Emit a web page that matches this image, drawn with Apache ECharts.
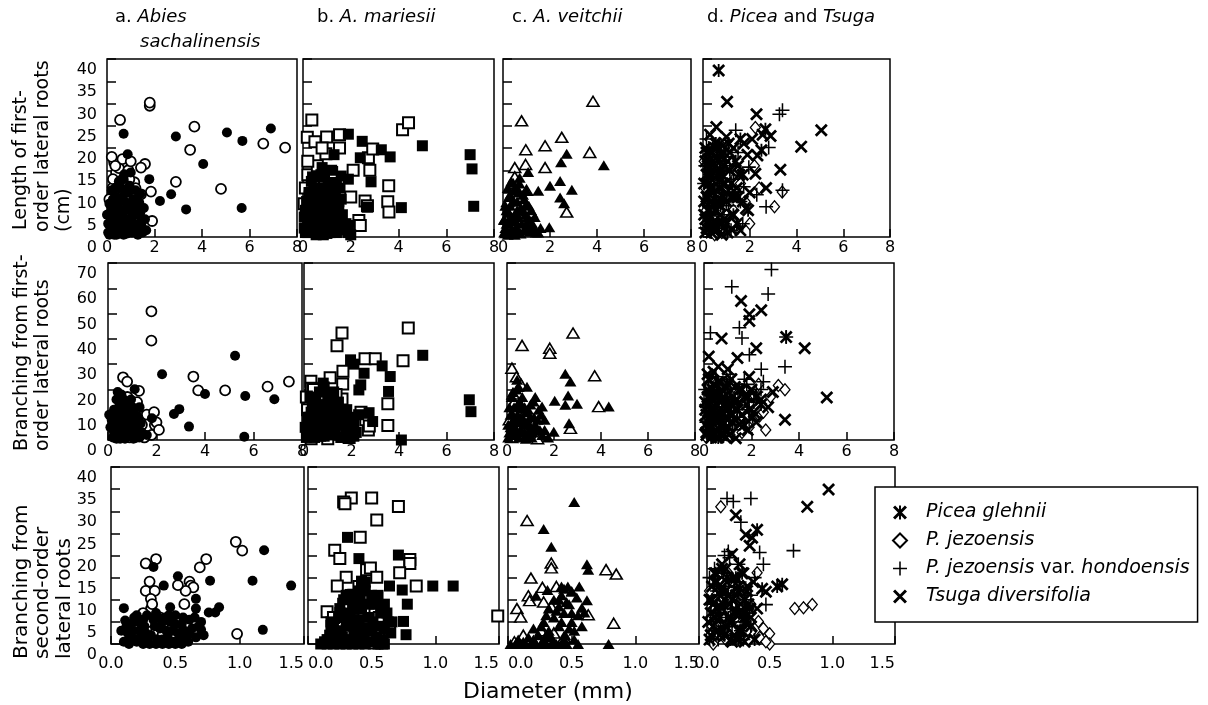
<!DOCTYPE html>
<html>
<head>
<meta charset="utf-8">
<script src="https://cdn.jsdelivr.net/npm/echarts@6.0.0/dist/echarts.min.js"></script>
<style>
  html, body { margin: 0; padding: 0; background: #fff; }
  #main { width: 1208px; height: 705px; }
</style>
</head>
<body>
<div id="main"></div>
<script>
// ---- data: [diameter, value] ----
// column a: Abies sachalinensis (open / filled circles)
const aLenOpen = [[1.8,29.5],[1.8,30.2],[0.55,26.3],[3.68,24.8],[3.5,19.6],[6.58,21],[7.5,20.1],[2.9,12.4],[4.8,10.8],[0.3,16.8],[0.38,14.5],[0.8,16.8],[1.6,16.4],[1.43,15.6],[1.15,12.3],[1.43,9.6],[1.85,10.2],[1.9,3.6],[0.24,11.1],[0.94,13],[0.24,7.4],[0.1,8.5],[0.25,13],[0.5,15.5],[0.65,17.5],[0.45,11],[0.9,15],[1.2,11],[1.0,17],[0.2,18],[0.35,16],[0.7,12],[0.6,9]];
const aLenFilled = [[0.7,23.2],[0.87,18.6],[2.9,22.6],[5.05,23.5],[5.7,21.6],[6.9,24.4],[4.05,16.4],[1.78,13],[2.23,8.1],[2.7,9.6],[3.33,6.2],[5.67,6.5],[0.73,14.1],[1.0,14.5],[1.36,7.7],[1.36,5.1],[0.05,1],[0.1,3],[0.15,5.5],[0.2,1.5],[0.25,4],[0.3,7],[0.35,2],[0.4,9],[0.45,5],[0.5,1],[0.55,3.5],[0.6,11],[0.65,6],[0.7,2.5],[0.75,8],[0.8,4],[0.85,0.8],[0.9,10],[0.95,6.5],[1.0,2],[1.05,4.5],[1.1,8.5],[1.2,1.2],[1.25,5],[1.35,3],[1.4,9.6],[1.5,1],[0.2,10.5],[0.1,7.5],[0.5,12.5],[0.3,0.5],[0.7,13],[1.6,4],[0.0,5],[0.15,2.5],[0.6,4.5],[0.05,3],[0.1,0.5],[0.2,6.5],[0.25,8.5],[0.3,3],[0.4,0.5],[0.4,3],[0.45,7],[0.55,5.5],[0.6,1.5],[0.65,9],[0.75,3.5],[0.8,6],[0.85,10.5],[0.9,2],[0.95,4],[1.0,7.5],[1.05,1],[1.1,3],[1.15,6],[1.2,10.5],[1.25,2.5],[1.3,7],[1.4,5.5],[1.45,2.5],[1.55,6.5],[1.65,1.5],[0.35,11],[0.55,8],[0.15,4.5],[0.5,4],[0.7,0.5],[1.3,0.5],[0.95,11.5]];
const aBr1Open = [[1.79,50.9],[1.79,39.3],[0.62,24.8],[0.79,23.1],[3.52,25.1],[3.72,19.6],[4.83,19.6],[6.58,21.1],[7.46,23.1],[1.28,19.4],[1.03,14.5],[1.38,9.2],[1.93,5.9],[0.2,10],[0.4,3],[0.6,8],[0.8,17],[1.0,12],[1.2,15],[1.4,6],[1.6,10],[1.8,2],[2.0,7],[2.1,4],[1.5,1],[1.9,11],[1.25,3],[0.9,1]];
const aBr1Filled = [[2.23,26],[5.24,33.3],[4.0,18.2],[5.66,17.4],[6.86,16.1],[2.72,10.3],[2.94,12.2],[3.34,5.3],[5.62,1.3],[1.1,20.1],[0.48,17.2],[1.81,8.6],[0.2,1],[0.3,5],[0.4,10],[0.5,2],[0.6,14],[0.7,7],[0.8,1.5],[0.9,11],[1.0,4],[1.1,8],[1.2,1],[1.3,13],[0.35,16],[0.55,18],[0.75,12],[0.95,16],[0.45,6],[0.65,3],[0.85,9],[1.05,0.5],[0.15,8],[0.25,12],[1.4,3],[1.6,2],[1.15,6],[0.25,3],[0.3,8.5],[0.35,0.5],[0.4,4],[0.45,13],[0.5,7],[0.55,10],[0.6,1],[0.65,5],[0.7,11],[0.75,3],[0.8,15],[0.85,6],[0.9,2],[0.95,8],[1.0,13],[1.05,3],[1.1,10],[1.2,5],[1.25,9],[1.3,1],[1.35,6.5],[0.3,1],[0.5,0.5],[0.7,0.5],[0.55,4],[0.1,5],[0.05,10],[0.65,16],[0.4,19]];
const aBr2Open = [[0.97,23.1],[1.02,21.1],[0.74,19.2],[0.69,17.3],[0.35,19.2],[0.27,18.2],[0.3,14.1],[0.27,12],[0.34,12],[0.31,10.2],[0.61,14.1],[0.62,13.2],[0.64,12.8],[0.58,12],[0.57,9],[0.52,13.3],[0.98,2.3],[0.31,7.9],[0.43,3.4],[0.3,5],[0.35,3],[0.4,2],[0.45,4],[0.5,3],[0.47,1.5],[0.38,6],[0.25,7],[0.32,9]];
const aBr2Filled = [[0.33,17.4],[0.41,13.2],[0.52,15.3],[0.77,14.3],[1.1,14.3],[1.19,21.2],[1.4,13.2],[1.18,3.2],[0.1,8.1],[0.11,5.3],[0.66,10.2],[0.66,8.0],[0.84,8.3],[0.76,7.1],[0.81,7.1],[0.7,3.2],[0.61,2.3],[0.46,8.3],[0.1,0.5],[0.13,2.5],[0.16,4.5],[0.19,1],[0.22,3],[0.25,5.5],[0.28,0.5],[0.31,2],[0.34,4],[0.37,6],[0.4,1],[0.43,3],[0.46,5],[0.49,0.5],[0.52,2.5],[0.55,4.5],[0.58,1.5],[0.61,5.5],[0.2,6.5],[0.35,7],[0.5,6.5],[0.15,1.5],[0.3,0],[0.45,0],[0.27,2.5],[0.4,5],[0.65,6],[0.68,4],[0.72,2],[0.55,0],[0.12,4],[0.14,0],[0.17,3],[0.2,0.5],[0.21,5],[0.24,2],[0.26,4],[0.29,1.5],[0.33,5.5],[0.36,1],[0.38,3.5],[0.42,6],[0.44,1.5],[0.48,3],[0.5,4.5],[0.53,1],[0.57,3],[0.6,0.5],[0.63,3.5],[0.35,0],[0.25,0],[0.4,0],[0.5,0],[0.18,6],[0.28,6.5],[0.45,6.5],[0.56,6],[0.08,3],[0.66,1.5],[0.7,5]];

// column b: A. mariesii (open / filled squares)
const bLenOpen = [[0.37,26.3],[0.18,22.4],[0.5,21.4],[0.99,22.5],[1.53,23],[1.53,20],[2.74,17.8],[2.8,15],[3.59,11.5],[3.55,7.9],[3.6,5.6],[4.17,24.1],[4.42,25.7],[2.92,19.8],[2.6,8.1],[2.7,7.0],[2.34,3.7],[2.4,2.6],[0.96,18.7],[0.1,11],[0.2,14],[0.3,9],[0.5,13],[0.15,6],[0.6,16],[0.9,12],[1.2,14.5],[0.4,2],[0.05,7.5],[1.0,5],[0.7,1.5],[1.3,10],[0.2,17],[0.8,20],[2.1,15],[2.0,9]];
const bLenFilled = [[1.9,23.1],[2.48,21.5],[3.28,19.6],[3.65,18],[5.0,20.5],[7.0,18.5],[7.08,15.3],[7.15,6.9],[4.12,6.6],[2.85,12.4],[1.9,13],[1.6,13.7],[1.3,18.5],[2.4,17.8],[0.8,15.6],[2.7,6.7],[1.6,8.5],[1.9,2.6],[0.1,1],[0.2,3.5],[0.3,6],[0.4,1.5],[0.5,9],[0.6,4],[0.7,11],[0.8,2],[0.9,7],[1.0,0.8],[1.1,5],[1.2,9.5],[1.3,2.5],[1.4,12],[1.5,6],[0.15,8],[0.35,12.5],[0.55,0.5],[0.75,14],[0.95,3],[1.15,1],[1.25,7.5],[0.05,4.5],[0.45,6.5],[0.85,9.5],[1.05,12],[1.6,3],[1.75,1.5],[0.25,10],[0.65,8],[0.05,2],[0.1,6],[0.2,1],[0.25,5],[0.3,8.5],[0.35,3],[0.45,10.5],[0.5,4.5],[0.55,7],[0.6,1.5],[0.65,11],[0.7,5],[0.75,3],[0.8,8],[0.85,0.5],[0.9,10.5],[0.95,5.5],[1.0,3],[1.05,8.5],[1.1,1],[1.15,11],[1.2,4],[1.3,6],[1.35,9],[1.4,1],[1.45,3.5],[1.5,8],[1.55,11],[1.65,5],[1.8,3],[1.9,1],[2.0,0.5],[0.4,13.5],[0.9,13.5],[1.2,15]];
const bBr1Open = [[1.6,42.3],[1.39,37.3],[4.39,44.3],[4.17,31.3],[2.57,32.1],[3.0,32.1],[1.64,27.2],[1.63,22.1],[1.6,16.2],[3.53,14.3],[3.53,5.7],[0.29,23.2],[0.31,20.5],[1.1,24.6],[2.71,4],[0.15,12],[0.35,8],[0.55,3],[0.75,16],[0.95,10],[1.15,13],[1.35,18],[0.4,20],[0.3,0.5],[1.0,0.5],[1.5,4],[1.9,1],[2.6,8],[2.75,5.5],[2.4,11],[0.1,17]];
const bBr1Filled = [[1.96,31.7],[2.1,30],[2.53,26.4],[3.29,29.3],[3.63,25.1],[2.39,21.8],[2.31,19.8],[3.56,19.2],[5.0,33.5],[6.96,15.9],[7.03,11.2],[4.1,0],[0.81,22.5],[2.74,10.8],[2.89,7.3],[1.89,1.3],[0.1,1],[0.2,6],[0.3,11],[0.4,3],[0.5,15],[0.6,8],[0.7,1.5],[0.8,12],[0.9,5],[1.0,17],[1.1,9],[1.2,2],[1.3,14],[1.4,6],[1.5,10],[1.6,1],[1.7,7],[1.8,12],[1.9,4],[2.0,9],[2.1,1.5],[2.3,10],[0.25,17],[0.65,19],[0.85,21],[1.25,19],[0.45,7.5],[1.05,3],[0.05,5],[0.15,3],[0.25,9],[0.35,5],[0.45,1],[0.55,12],[0.6,4],[0.7,9],[0.75,5],[0.85,1.5],[0.9,14],[0.95,8],[1.05,11],[1.1,5],[1.2,7],[1.3,3],[1.35,10],[1.45,15],[1.5,6],[1.55,1],[1.65,11],[1.75,4],[1.85,8],[2.0,2],[2.1,6],[2.2,3],[0.35,14],[0.8,6],[1.15,16],[0.15,9]];
const bBr2Open = [[0.34,33.0],[0.28,32.1],[0.29,31.7],[0.5,33],[0.71,31.1],[0.54,28],[0.41,24.1],[0.21,21.2],[0.25,19.3],[0.8,19.1],[0.8,18.2],[0.72,16.1],[0.46,16.8],[0.49,17.2],[0.3,15.1],[0.23,13.1],[0.85,13.1],[0.54,15.1],[0.15,7.3],[0.64,3.1],[1.49,6.3],[0.2,6],[0.28,9],[0.36,11],[0.44,7],[0.52,0.2],[0.58,0.2],[0.48,4],[0.4,13],[0.32,3],[0.56,6]];
const bBr2Filled = [[0.31,24.1],[0.4,19.3],[0.71,20.1],[0.64,13.1],[0.98,13.1],[1.14,13.1],[0.74,12.2],[0.78,9.0],[0.66,5.0],[0.75,5.1],[0.77,2.1],[0.25,7.1],[0.18,4.2],[0.42,14.2],[0.33,11.2],[0.13,0.5],[0.17,2],[0.2,4],[0.23,0.5],[0.26,3],[0.29,6],[0.32,1],[0.35,8],[0.38,4],[0.41,10],[0.44,2],[0.47,6],[0.5,0.5],[0.53,9],[0.56,4],[0.59,1],[0.62,7],[0.3,11],[0.45,12],[0.4,0],[0.25,8],[0.5,3],[0.55,11],[0.65,2.5],[0.2,0],[0.35,5.5],[0.15,1],[0.18,5],[0.21,2],[0.24,6],[0.27,1.5],[0.3,4],[0.33,7],[0.36,2],[0.39,5.5],[0.42,8],[0.45,3.5],[0.48,9],[0.51,5],[0.54,1.5],[0.57,7],[0.6,3.5],[0.63,5],[0.36,10],[0.4,12],[0.5,11],[0.28,10],[0.1,0],[0.15,0],[0.25,0],[0.3,0],[0.35,0],[0.45,0],[0.55,0],[0.6,0],[0.45,14],[0.6,9]];

// column c: A. veitchii (open / filled triangles)
const cLenOpen = [[3.83,30.5],[0.79,26.1],[2.5,22.4],[1.79,20.5],[0.97,19.6],[3.69,19],[0.5,15.6],[0.96,16.3],[1.79,15.6],[2.71,5.6],[0.1,4],[0.2,8],[0.4,12],[0.3,2],[0.6,9],[0.8,4],[1.0,10.5],[1.2,5.5],[0.5,13.5],[0.15,1]];
const cLenFilled = [[2.71,18.7],[2.47,16.8],[4.29,16.1],[1.07,14.6],[2.0,11.5],[2.43,12.6],[2.93,10.6],[1.5,10.4],[1.0,10.4],[2.43,8.9],[2.6,7.6],[1.97,2.2],[0.43,12.2],[0.71,13.3],[0.05,1],[0.15,3],[0.25,5.5],[0.35,1.5],[0.45,8],[0.55,3.5],[0.65,10],[0.75,0.8],[0.85,6],[0.95,2],[1.05,4.5],[1.15,1.2],[1.25,3],[0.1,7],[0.3,9.5],[0.5,0.5],[0.7,12],[0.9,8.5],[1.1,7],[0.2,11],[1.4,1],[1.6,2],[0.4,4],[0.6,6],[0.05,4],[0.1,2],[0.15,6],[0.2,0.5],[0.25,3],[0.3,7],[0.35,4.5],[0.4,1.5],[0.45,10.5],[0.5,5],[0.55,2],[0.6,8],[0.65,4.5],[0.7,1],[0.75,6.5],[0.8,3],[0.85,9.5],[0.9,1.5],[0.95,5],[1.0,7.5],[1.05,2.5],[1.1,4],[1.2,6],[1.3,2],[1.35,4.5],[1.5,1],[0.35,12.5],[0.6,11],[0.25,9]];
const cBr1Open = [[2.81,42.3],[0.64,37.4],[1.82,36.3],[1.82,34.3],[3.73,25.4],[3.9,13.2],[0.21,28.4],[0.26,18.2],[2.7,4.6],[0.1,8],[0.3,15],[0.5,4],[0.7,10],[0.9,2],[1.1,6],[0.2,1],[0.4,25],[1.3,0.5],[0.6,22]];
const cBr1Filled = [[2.48,26.2],[2.7,23.1],[2.6,17.6],[2.48,13.9],[2.98,14.3],[4.33,13.2],[2.03,15.5],[1.99,3.3],[2.64,6.6],[0.85,21.1],[0.43,23.8],[1.49,13.2],[1.13,15.2],[0.05,1],[0.15,5],[0.25,10],[0.35,2],[0.45,14],[0.55,7],[0.65,17],[0.75,3],[0.85,11],[0.95,6],[1.05,1],[1.15,9],[1.25,4],[1.35,12],[1.5,2],[0.2,17],[0.4,20],[0.6,12.5],[0.8,0.5],[1.0,14],[1.2,17],[1.6,8],[1.75,1],[0.1,13],[0.05,6],[0.1,3],[0.15,10],[0.2,7],[0.25,2],[0.3,13],[0.35,8],[0.4,4],[0.45,10],[0.5,1],[0.55,15],[0.6,4],[0.65,9],[0.7,6],[0.75,13],[0.8,2],[0.85,7],[0.9,12],[0.95,4],[1.0,9],[1.1,3],[1.2,6],[1.3,8],[1.4,4],[1.45,10],[1.6,4],[0.25,19],[0.5,21],[0.3,5]];
const cBr2Open = [[0.15,27.9],[0.18,14.9],[0.77,16.8],[0.85,15.8],[0.34,18.3],[0.34,17.2],[0.27,12.8],[0.16,10.9],[0.17,9.8],[0.07,8.0],[0.1,6.1],[0.83,4.7],[0.63,6.6],[0.05,0.5],[0.12,2],[0.2,0.5],[0.26,3],[0.3,1],[0.36,2.5],[0.44,1.5],[0.34,8.5],[0.38,13],[0.28,9.5]];
const cBr2Filled = [[0.52,32.1],[0.28,26.0],[0.34,22],[0.62,18.0],[0.63,16.8],[0.42,13.0],[0.56,13.0],[0.5,11.8],[0.62,9.9],[0.58,8.2],[0.6,7.1],[0.22,10.9],[0.55,0],[0.79,0],[0.31,12.2],[0.02,0],[0.06,0],[0.1,0],[0.14,0],[0.18,0],[0.22,0],[0.26,0],[0.3,0],[0.34,0],[0.38,0],[0.42,0],[0.46,0],[0.08,1],[0.16,1.5],[0.24,2],[0.32,3],[0.4,4],[0.28,5],[0.36,6],[0.44,7],[0.48,9],[0.4,10],[0.5,5],[0.2,3.5],[0.32,8],[0.45,2],[0.52,3],[0.55,6.5],[0.42,11],[0.26,4],[0.3,6.5],[0.34,1.5],[0.38,7.5],[0.42,5],[0.46,9.5],[0.5,7],[0.54,10.5],[0.36,10],[0.44,12.5],[0.3,2],[0.48,3.5],[0.4,8.5],[0.52,1],[0.12,0.5],[0.2,1],[0.28,1],[0.36,0.5],[0.44,1],[0.5,12],[0.47,13],[0.58,4]];

// column d: Picea and Tsuga
const dLenGlehnii = [[0.67,37.4],[2.67,24.2],[1.93,6.0],[0.1,4],[0.2,9],[0.3,2],[0.4,14],[0.5,6],[0.6,18],[0.7,11],[0.8,3],[0.9,16],[1.0,8],[1.1,21],[1.2,12],[1.3,5],[1.4,17],[0.15,19],[0.25,12],[1.6,22],[1.5,9],[2.5,19.5],[0.05,8],[0.15,14],[0.35,1],[0.45,10],[0.55,21],[0.75,7],[0.85,12],[1.05,1],[1.15,15],[1.25,9],[1.45,3],[1.7,14],[0.2,16],[0.9,19],[0.05,12],[0.25,6],[0.45,2],[0.65,14],[0.85,9],[1.0,3],[0.3,19],[0.55,8],[0.75,15],[0.1,17]];
const dLenJezo = [[2.24,24.6],[3.06,6.8],[3.39,10.1],[0.2,2],[0.4,7],[0.6,13],[0.8,1],[1.0,5],[1.2,10],[1.4,15],[0.3,17],[0.7,21],[1.6,12],[1.8,8],[2.0,3],[0.1,11],[0.5,0.5],[2.4,11],[2.2,16],[0.05,17],[0.25,9],[0.45,4],[0.65,8],[0.85,17],[1.05,14],[1.3,6],[1.5,2],[0.15,6],[0.35,13],[0.15,3],[0.35,9],[0.55,14],[0.75,2.5],[0.95,10]];
const dLenHondo = [[3.27,27.6],[3.4,28.5],[2.7,6.8],[2.81,20.1],[1.96,15.7],[1.74,11.3],[3.4,10.5],[0.3,5],[0.5,10],[0.7,15],[0.9,2],[1.1,7],[1.3,13],[1.5,19],[0.15,22],[1.2,1.5],[0.6,4],[1.7,3],[2.3,9.5],[1.4,24],[0.05,12],[0.2,8],[0.4,18],[0.45,3],[0.8,9],[1.0,16],[1.25,10],[1.6,8],[0.1,16],[0.35,11],[0.85,18],[0.1,2],[0.3,14],[0.5,7],[0.7,12],[0.9,5],[0.25,20]];
const dLenTsuga = [[1.03,30.4],[2.29,27.6],[5.06,24],[4.2,20.3],[0.57,24.7],[3.31,15.1],[2.7,11],[1.84,6.4],[2.33,18.3],[2.24,14.2],[2.89,22.7],[1.24,1.6],[0.1,20],[0.35,8],[0.55,16],[0.75,5],[0.95,12],[1.15,19],[1.35,9],[1.55,14],[1.75,21],[0.2,14],[0.45,1.5],[1.9,18.5],[2.1,22],[2.55,23],[1.0,22.5],[0.85,20.5],[1.6,1.5],[2.0,10],[0.05,5],[0.15,2],[0.25,17],[0.4,11],[0.5,3],[0.65,8],[0.8,14],[1.05,17],[1.25,5],[1.45,11],[1.7,8],[0.3,23],[0.6,20],[1.3,20],[1.5,16],[0.1,1],[0.2,6],[0.3,11],[0.4,16],[0.5,20],[0.6,2],[0.7,7],[0.8,0.5],[0.9,4],[1.0,10],[0.15,9],[0.35,4.5],[0.55,12],[0.75,18],[0.45,7]];
const dBr1Glehnii = [[3.46,40.7],[0.1,3],[0.3,8],[0.5,13],[0.7,18],[0.9,4],[1.1,10],[1.3,15],[1.5,20],[1.7,6],[0.2,24],[0.6,1],[1.0,22],[1.9,12],[2.2,17],[2.4,14],[0.05,12],[0.15,17],[0.25,5],[0.35,20],[0.45,8],[0.6,23],[0.8,10],[0.95,16],[1.2,7],[1.4,12],[1.6,20],[1.85,17],[2.05,9],[0.05,6],[0.25,14],[0.45,19],[0.65,9],[0.85,14],[1.05,5],[0.3,1],[0.55,17],[0.75,2]];
const dBr1Jezo = [[3.41,19.9],[3.13,21.6],[2.34,9.5],[2.6,4.0],[0.2,6],[0.4,11],[0.6,16],[0.8,2],[1.0,7],[1.2,12],[1.4,18],[1.6,3],[1.8,9],[2.0,14],[0.3,20],[2.8,17],[2.3,22],[0.1,1],[0.05,4],[0.15,14],[0.35,7],[0.5,22],[0.7,13],[0.9,18],[1.1,2],[1.3,15],[1.5,9],[1.7,20],[1.9,5],[2.1,18],[2.5,11],[0.1,10],[0.3,2],[0.5,8],[0.7,18],[0.9,13],[1.1,9],[0.2,21]];
const dBr1Hondo = [[2.84,67.4],[1.17,60.6],[2.7,57.7],[1.49,44.4],[0.27,42.4],[1.6,40.3],[3.46,40.7],[2.41,28],[3.41,29],[1.91,33.7],[0.2,15],[0.4,2],[0.6,7],[0.8,13],[1.0,19],[1.2,4],[1.4,9],[1.6,15],[1.8,22],[2.2,19],[0.5,25],[1.1,26],[2.5,23],[0.05,20],[0.1,7],[0.3,11],[0.45,16],[0.7,3],[0.9,11],[1.1,20],[1.3,6],[1.5,12],[1.7,24],[1.9,8],[2.1,15],[2.4,20],[0.15,4],[0.35,18],[0.55,10],[0.75,6],[0.95,24],[1.15,14],[0.25,9]];
const dBr1Tsuga = [[1.56,55],[2.41,51.3],[1.91,49.7],[1.91,47.1],[0.74,40.1],[4.24,36.3],[2.2,36.3],[5.17,16.8],[3.41,8],[1.34,0.7],[1.84,4],[0.2,33],[1.41,32.4],[0.1,10],[0.3,5],[0.5,18],[0.7,23],[0.9,9],[1.1,14],[1.3,21],[1.5,6],[1.7,17],[1.9,25],[2.1,11],[2.4,16],[2.7,13],[0.6,29],[1.0,28],[2.9,19],[0.4,27],[0.05,15],[0.15,20],[0.25,12],[0.35,2],[0.45,9],[0.55,14],[0.65,4],[0.8,17],[0.95,21],[1.05,2],[1.2,10],[1.35,16],[1.6,10],[1.8,14],[2.0,20],[2.2,7],[1.15,24],[0.1,2],[0.2,8],[0.3,17],[0.4,22],[0.5,4],[0.6,10],[0.7,15],[0.8,6],[0.9,1],[1.0,13],[0.15,26],[0.35,12],[0.55,1],[0.75,20],[1.2,17]];
const dBr2Glehnii = [[0.4,25.8],[0.56,13],[0.02,1],[0.05,4],[0.08,8],[0.11,12],[0.14,2],[0.17,6],[0.2,10],[0.23,15],[0.26,3],[0.29,7],[0.32,12],[0.12,17],[0.35,4],[0.44,12.5],[0.6,13.5],[0.03,7],[0.06,14],[0.09,3],[0.13,9],[0.16,15],[0.19,1],[0.22,7],[0.25,12],[0.28,16],[0.31,5],[0.34,8],[0.38,1],[0.04,10],[0.1,6],[0.15,12],[0.2,5],[0.25,1],[0.3,10],[0.07,16]];
const dBr2Jezo = [[0.11,31],[0.7,8],[0.77,8.2],[0.84,8.9],[0.41,5.1],[0.5,2.3],[0.5,0],[0.4,16.1],[0.03,2],[0.06,6],[0.09,10],[0.12,14],[0.15,1],[0.18,5],[0.21,9],[0.24,13],[0.27,2],[0.3,6],[0.33,1],[0.36,3],[0.42,1.5],[0.45,3.5],[0.47,0.5],[0.02,12],[0.05,0],[0.08,4],[0.11,8],[0.14,11],[0.17,16],[0.2,3],[0.23,6],[0.26,10],[0.29,13],[0.32,3],[0.35,9],[0.04,4],[0.1,2],[0.16,8],[0.22,11],[0.28,8]];
const dBr2Hondo = [[0.16,32.9],[0.21,32.2],[0.35,32.9],[0.27,27.5],[0.42,20.7],[0.45,18],[0.69,21.1],[0.47,8.9],[0.17,20.9],[0.04,3],[0.07,7],[0.1,11],[0.13,16],[0.16,4],[0.19,8],[0.22,13],[0.25,18],[0.28,5],[0.31,10],[0.14,20],[0.18,19.5],[0.02,15],[0.05,1],[0.08,12],[0.11,5],[0.14,9],[0.17,13],[0.2,2],[0.23,8],[0.26,14],[0.29,1],[0.32,7],[0.35,11],[0.38,15],[0.03,9],[0.09,1],[0.15,6],[0.21,11],[0.27,3],[0.06,17]];
const dBr2Tsuga = [[0.97,34.9],[0.8,31],[0.23,29.1],[0.31,24.7],[0.36,24],[0.34,22.2],[0.47,11.8],[0.2,20.3],[0.08,14.1],[0.4,8],[0.01,5],[0.05,9],[0.09,13],[0.13,3],[0.17,11],[0.21,15],[0.25,7],[0.29,16],[0.33,9],[0.37,14],[0.24,1],[0.3,0.5],[0.15,17],[0.02,10],[0.06,16],[0.1,2],[0.12,8],[0.16,14],[0.19,5],[0.23,11],[0.26,18],[0.28,3],[0.32,13],[0.35,6],[0.12,18],[0.2,0.5],[0.03,2],[0.07,6],[0.11,11],[0.15,4],[0.18,9],[0.22,2],[0.25,13],[0.3,6],[0.04,13],[0.27,9]];

const species = ['Picea glehnii', 'P. jezoensis', 'P. jezoensis var. hondoensis', 'Tsuga diversifolia'];
const colTitles = ['{n|a. }{i|Abies}', '{n|b. }{i|A. mariesii}', '{n|c. }{i|A. veitchii}', '{n|d. }{i|Picea}{n| and }{i|Tsuga}'];
const xMax = [8, 8, 1.5];
const xStep = [2, 2, 0.5];
const yMax = [40, 70, 40];
const yStep = [5, 10, 5];

// ---- layout ----
const FONT = 'DejaVu Sans';
const rows = [
  { top: 59, height: 178, xMargin: 3, yMargin: 10, cols: [[107, 297], [303, 494], [503, 691], [703, 890]] },
  { top: 263, height: 177, xMargin: 4, yMargin: 11, cols: [[108, 302], [304, 494], [507, 695], [704, 894]] },
  { top: 467, height: 177, xMargin: 12, yMargin: 14, cols: [[111, 304], [308, 499], [508, 699], [707, 895]] }
];

const PLUS = 'path://M8.9,0L11.1,0L11.1,20L8.9,20Z M0,8.9L20,8.9L20,11.1L0,11.1Z';
const CROSS = 'path://M0,3L3,0L20,17L17,20Z M17,0L20,3L3,20L0,17Z';
const ASTER = 'path://M0,3L3,0L20,17L17,20Z M17,0L20,3L3,20L0,17Z M8.6,0L11.4,0L11.4,20L8.6,20Z';

function openSym(symbol, size, bw) {
  return { symbol: symbol, symbolSize: size, itemStyle: { color: '#fff', borderColor: '#000', borderWidth: bw, opacity: 1 } };
}
function fillSym(symbol, size) {
  return { symbol: symbol, symbolSize: size, symbolKeepAspect: true, itemStyle: { color: '#000', borderWidth: 0, opacity: 1 } };
}

const grids = [], xAxes = [], yAxes = [], series = [];
rows.forEach(function (row, r) {
  row.cols.forEach(function (lr, c) {
    const p = r * 4 + c;
    grids.push({
      left: lr[0], top: row.top, width: lr[1] - lr[0], height: row.height,
      show: true, borderColor: '#000', borderWidth: 1.5, backgroundColor: 'transparent',
      outerBoundsMode: 'none'
    });
    xAxes.push({
      gridIndex: p, type: 'value', min: 0, max: xMax[r], interval: xStep[r],
      axisLine: { show: false },
      axisTick: { inside: true, length: 8, lineStyle: { color: '#000', width: 1.5 } },
      splitLine: { show: false },
      axisLabel: {
        margin: row.xMargin, color: '#000', fontFamily: FONT, fontSize: 16,
        alignMaxLabel: r === 2 ? 'right' : null,
        alignMinLabel: (r === 2 && (c === 1 || c === 2)) ? 'left' : null,
        formatter: function (v) { return r === 2 ? v.toFixed(1) : String(v); }
      }
    });
    yAxes.push({
      gridIndex: p, type: 'value', min: 0, max: yMax[r], interval: yStep[r],
      axisLine: { show: false },
      axisTick: { inside: true, length: 9, lineStyle: { color: '#000', width: 1.5 } },
      splitLine: { show: false },
      axisLabel: {
        show: c === 0, margin: row.yMargin, color: '#000', fontFamily: FONT, fontSize: 16,
        verticalAlign: 'top', padding: [3, 0, 0, 0]
      }
    });
  });
});

function scat(name, data, p, style) {
  return Object.assign({ type: 'scatter', name: name, data: data, xAxisIndex: p, yAxisIndex: p, silent: true }, style);
}

const abcData = [
  [[aLenOpen, aLenFilled], [bLenOpen, bLenFilled], [cLenOpen, cLenFilled]],
  [[aBr1Open, aBr1Filled], [bBr1Open, bBr1Filled], [cBr1Open, cBr1Filled]],
  [[aBr2Open, aBr2Filled], [bBr2Open, bBr2Filled], [cBr2Open, cBr2Filled]]
];
const abcSym = [['circle', 10, 1.8], ['rect', 11, 2], ['triangle', [12, 10], 1.6]];
const dData = [
  [dLenGlehnii, dLenJezo, dLenHondo, dLenTsuga],
  [dBr1Glehnii, dBr1Jezo, dBr1Hondo, dBr1Tsuga],
  [dBr2Glehnii, dBr2Jezo, dBr2Hondo, dBr2Tsuga]
];
const dStyle = [
  fillSym(ASTER, 13),
  openSym('diamond', [10, 12], 1.3),
  fillSym(PLUS, 14),
  fillSym(CROSS, 13)
];

for (let r = 0; r < 3; r++) {
  for (let c = 0; c < 3; c++) {
    const s = abcSym[c];
    series.push(scat('open ' + r + c, abcData[r][c][0], r * 4 + c, openSym(s[0], s[1], s[2])));
    series.push(scat('filled ' + r + c, abcData[r][c][1], r * 4 + c, fillSym(s[0], s[1])));
  }
  // diamonds first so the line symbols sit on top
  [1, 2, 3, 0].forEach(function (k) {
    series.push(scat(species[k], dData[r][k], r * 4 + 3, dStyle[k]));
  });
}

const italicRich = {
  n: { fontFamily: FONT, fontSize: 18, color: '#000', fontStyle: 'normal', fontWeight: 'normal' },
  i: { fontFamily: FONT, fontSize: 18, color: '#000', fontStyle: 'italic', fontWeight: 'normal' }
};
const titleLeft = [115, 317, 512, 707];
const titles = colTitles.map(function (t, i) {
  return { text: t, left: titleLeft[i], top: 8, padding: 0, textStyle: { fontWeight: 'normal', rich: italicRich } };
});
titles.push({ text: '{i|sachalinensis}', left: 140, top: 33, padding: 0, textStyle: { fontWeight: 'normal', rich: italicRich } });
titles.push({ text: 'Diameter (mm)', left: 463, top: 681, padding: 0,
  textStyle: { fontFamily: FONT, fontSize: 22, fontWeight: 'normal', color: '#000' } });

const yNames = [
  ['Length of first-', 21, 230, 19], ['order lateral roots', 43, 232, 19], ['(cm)', 64, 232, 19],
  ['Branching from first-', 22, 451, 19], ['order lateral roots', 43, 451, 19],
  ['Branching from', 22, 659, 20], ['second-order', 43, 659, 20], ['lateral roots', 65, 659, 20]
];
const graphics = yNames.map(function (t) {
  return {
    type: 'text', x: t[1], y: t[2], rotation: Math.PI / 2, silent: true,
    style: { text: t[0], fontFamily: FONT, fontSize: t[3], fill: '#000', align: 'left', verticalAlign: 'middle' }
  };
});

const legendIcons = [ASTER, 'diamond', PLUS, CROSS];
const option = {
  animation: false,
  backgroundColor: '#fff',
  title: titles,
  graphic: graphics,
  grid: grids,
  xAxis: xAxes,
  yAxis: yAxes,
  legend: {
    orient: 'vertical', left: 875, top: 487,
    itemWidth: 14, itemHeight: 14, itemGap: 9,
    padding: [16, 8, 16, 17],
    borderColor: '#000', borderWidth: 1.5, backgroundColor: '#fff',
    selectedMode: false,
    data: species.map(function (s, i) { return { name: s, icon: legendIcons[i] }; }),
    formatter: function (name) {
      if (name === 'P. jezoensis var. hondoensis') return '{s|}{i|P. jezoensis }{n|var. }{i|hondoensis}';
      return '{s|}{i|' + name + '}';
    },
    textStyle: {
      fontFamily: FONT, fontSize: 19, color: '#000',
      rich: {
        s: { width: 14 },
        i: { fontFamily: FONT, fontSize: 19, color: '#000', fontStyle: 'italic', lineHeight: 22 },
        n: { fontFamily: FONT, fontSize: 19, color: '#000', fontStyle: 'normal', lineHeight: 22 }
      }
    }
  },
  series: series
};

const chart = echarts.init(document.getElementById('main'), null, { renderer: 'canvas' });
chart.setOption(option);
</script>
</body>
</html>
